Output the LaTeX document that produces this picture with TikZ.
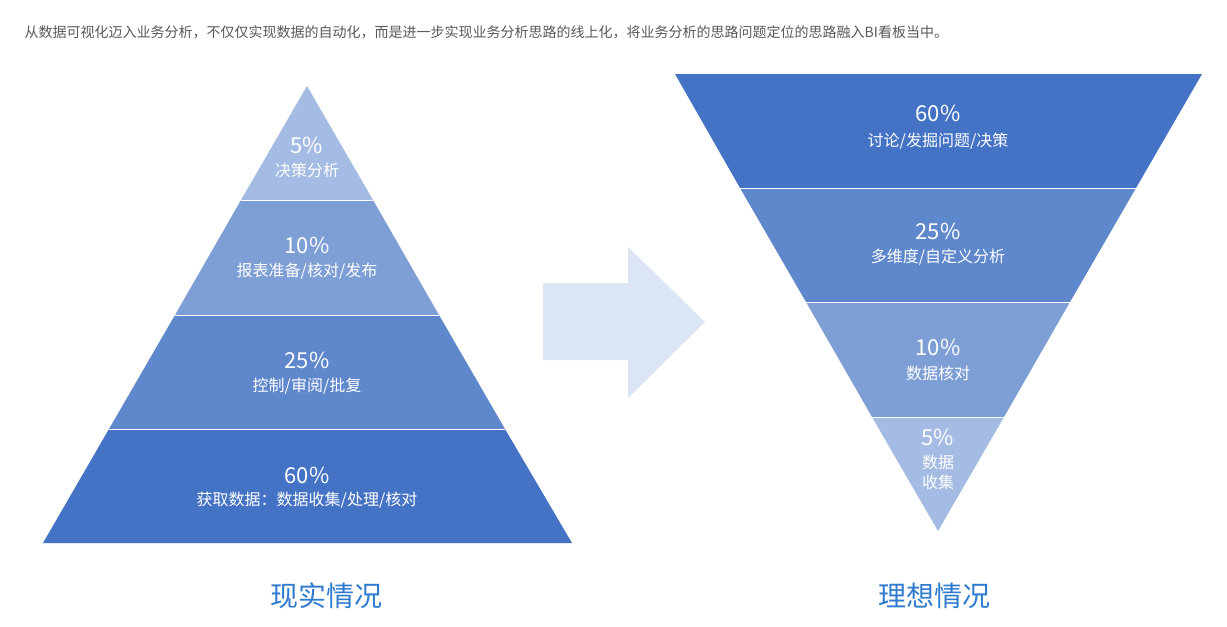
\documentclass[tikz,border=0pt]{standalone}
\usepackage{fontspec}
\setmainfont{Noto Sans CJK SC}
\definecolor{c1}{HTML}{A4BCE3}
\definecolor{c2}{HTML}{7E9FD6}
\definecolor{c3}{HTML}{5F87CC}
\definecolor{c4}{HTML}{4472C4}
\definecolor{arr}{HTML}{DCE5F4}
\definecolor{ttl}{HTML}{2E7BD0}
\begin{document}
\begin{tikzpicture}[x=0.75pt,y=-0.75pt,
  pct/.style={text=white,font=\fontsize{16.5}{18}\selectfont,inner sep=0},
  lbl/.style={text=white,font=\fontsize{12}{15}\selectfont,inner sep=0,align=center},
  ttlstyle/.style={text=ttl,font=\fontsize{21}{24}\selectfont}]
\useasboundingbox (0,0) rectangle (1227,626);
\fill[white] (0,0) rectangle (1227,626);
\node[anchor=west,text=black!65,font=\fontsize{10.5}{12}\selectfont] (hdr) at (20,32) {从数据可视化迈入业务分析，不仅仅实现数据的自动化，而是进一步实现业务分析思路的线上化，将业务分析的思路问题定位的思路融入BI看板当中。};
% left pyramid
\fill[c1] (307,86) -- (373,200) -- (241,200) -- cycle;
\fill[c2] (241,200) -- (373,200) -- (439,315) -- (175,315) -- cycle;
\fill[c3] (175,315) -- (439,315) -- (505,429) -- (109,429) -- cycle;
\fill[c4] (109,429) -- (505,429) -- (572,543) -- (43,543) -- cycle;
\draw[white,line width=0.6pt] (241,200)--(373,200) (175,315)--(439,315) (109,429)--(505,429);
\node[pct] (l1p) at (307,145) {5\%};
\node[lbl] (l1l) at (307,170) {决策分析};
\node[pct] (l2p) at (307,245) {10\%};
\node[lbl] (l2l) at (307,271) {报表准备/核对/发布};
\node[pct] (l3p) at (307,360) {25\%};
\node[lbl] (l3l) at (307,386) {控制/审阅/批复};
\node[pct] (l4p) at (307,475) {60\%};
\node[lbl] (l4l) at (307,500) {获取数据：数据收集/处理/核对};
\node[ttlstyle] (lt) at (326,596) {现实情况};
% arrow
\fill[arr] (543,283) -- (628,283) -- (628,247) -- (705,322) -- (628,398) -- (628,360) -- (543,360) -- cycle;
% right inverted
\fill[c4] (675,74) -- (1202,74) -- (1136,188) -- (740,188) -- cycle;
\fill[c3] (740,188) -- (1136,188) -- (1070,302) -- (806,302) -- cycle;
\fill[c2] (806,302) -- (1070,302) -- (1004,417) -- (872,417) -- cycle;
\fill[c1] (872,417) -- (1004,417) -- (938,531) -- cycle;
\draw[white,line width=0.6pt] (740,188)--(1136,188) (806,302)--(1070,302) (872,417)--(1004,417);
\node[pct] (r1p) at (938,113) {60\%};
\node[lbl] (r1l) at (938,141) {讨论/发掘问题/决策};
\node[pct] (r2p) at (938,231) {25\%};
\node[lbl] (r2l) at (938,257) {多维度/自定义分析};
\node[pct] (r3p) at (938,347) {10\%};
\node[lbl] (r3l) at (938,373) {数据核对};
\node[pct] (r4p) at (938,437) {5\%};
\node[lbl] (r4l) at (938,472) {数据\\收集};
\node[ttlstyle] (rt) at (934,596) {理想情况};
\end{tikzpicture}
\end{document}
